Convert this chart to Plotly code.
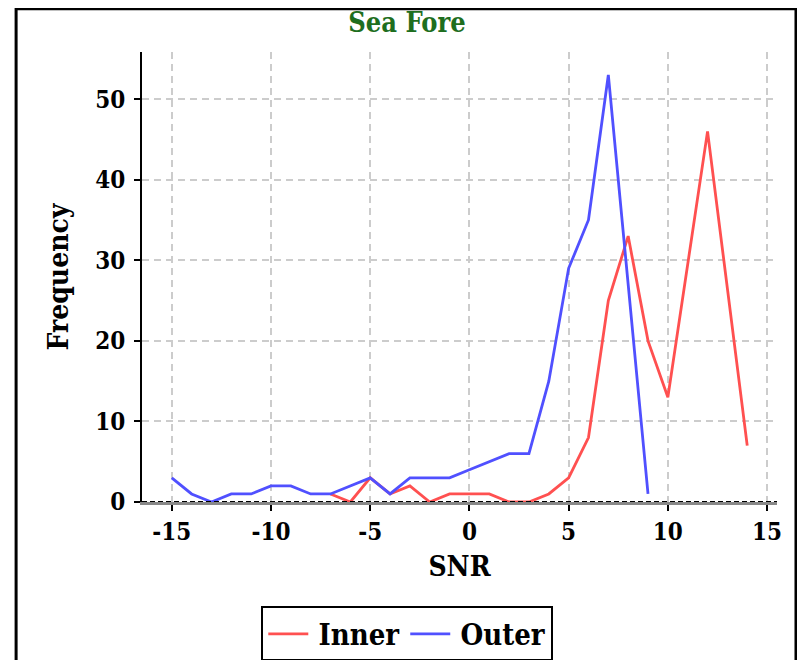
import plotly.graph_objects as go

# Data
inner_snr = [-7, -6, -5, -4, -3, -2, -1, 0, 1, 2, 3, 4, 5, 6, 7, 8, 9, 10, 12, 14]
inner_freq = [1, 0, 3, 1, 2, 0, 1, 1, 1, 0, 0, 1, 3, 8, 25, 33, 20, 13, 46, 7]
outer_snr = [-15, -14, -13, -12, -11, -10, -9, -8, -7, -6, -5, -4, -3, -2, -1, 0, 1, 2, 3, 4, 5, 6, 7, 9]
outer_freq = [3, 1, 0, 1, 1, 2, 2, 1, 1, 2, 3, 1, 3, 3, 3, 4, 5, 6, 6, 15, 29, 35, 53, 1]
x_ticks = [-15, -10, -5, 0, 5, 10, 15]
y_ticks = [0, 10, 20, 30, 40, 50]
series_names = ["Inner", "Outer"]

FONT = "DejaVu Serif Condensed, DejaVu Serif, serif"

fig = go.Figure()
fig.add_trace(go.Scatter(x=inner_snr, y=inner_freq, mode="lines",
                         name="\u2009" + series_names[0],
                         line=dict(color="#ff5050", width=2.8)))
fig.add_trace(go.Scatter(x=outer_snr, y=outer_freq, mode="lines",
                         name="\u2009" + series_names[1],
                         line=dict(color="#5050ff", width=2.8)))

# figure is drawn with an 8px page offset; positions below are in figure pixels
W, H = 805, 660
L, R, T, B = 133.5, 36, 44.3, 166.3
pw, ph = W - L - R, H - T - B

def px2paper_x(px):
    return (px - L) / pw

def px2paper_y(py):
    return (H - B - py) / ph

fig.update_layout(
    width=W, height=H,
    margin=dict(l=L, r=R, t=T, b=B, autoexpand=False),
    paper_bgcolor="white", plot_bgcolor="white",
    font=dict(family=FONT, color="black", size=24, weight="bold"),
    title=dict(text="Sea Fore", x=399 / W, xref="container", xanchor="center",
               y=1 - 15 / H, yref="container", yanchor="middle",
               font=dict(family=FONT, size=27, color="#1e6e1e", weight="bold")),
    showlegend=True,
    legend=dict(orientation="h", x=px2paper_x(399), xanchor="center",
                y=px2paper_y(598), yanchor="top",
                bordercolor="black", borderwidth=2,
                font=dict(family=FONT, size=29, color="black", weight="bold"),
                itemwidth=40),
    xaxis=dict(range=[-16.5, 15.5], tickvals=x_ticks, ticktext=[str(v) for v in x_ticks],
               showgrid=True, gridcolor="#cccccc", griddash="7px,5px", gridwidth=1.5,
               zeroline=False, showline=True, linecolor="#888888", linewidth=3,
               ticks="outside", ticklen=6, tickwidth=2, tickcolor="black",
               tickfont=dict(size=24),
               title=dict(text="SNR", font=dict(size=28), standoff=12)),
    yaxis=dict(range=[0, 55.85], tickvals=y_ticks, ticktext=[str(v) for v in y_ticks],
               showgrid=True, gridcolor="#cccccc", griddash="7px,5px", gridwidth=1.5,
               zeroline=False, showline=True, linecolor="black", linewidth=2,
               ticks="outside", ticklen=6, tickwidth=2, tickcolor="black",
               tickfont=dict(size=24), ticklabelstandoff=4,
               title=dict(text="Frequency", font=dict(size=28), standoff=18)),
)

# dashed black overlay on x-axis baseline
fig.add_shape(type="line", xref="paper", yref="y", x0=0, x1=1, y0=0, y1=0,
              line=dict(color="black", width=2, dash="5px,3px"), layer="above")
# outer page border
fig.add_shape(type="rect", xref="paper", yref="paper",
              x0=px2paper_x(7.5), x1=px2paper_x(788),
              y0=px2paper_y(720), y1=px2paper_y(1),
              line=dict(color="black", width=3), fillcolor="rgba(0,0,0,0)", layer="above")

fig.write_html("out.html")
